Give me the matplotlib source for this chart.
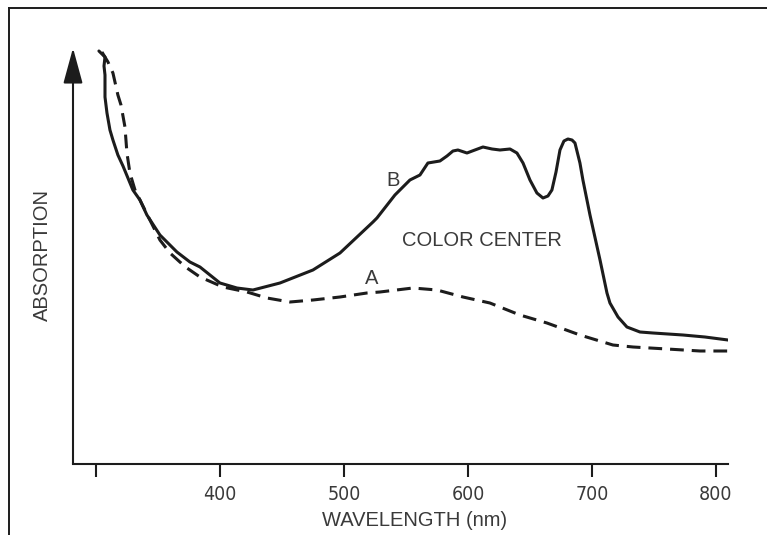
"""
plot.py - absorption spectrum sketch (curve A vs curve B with colour centre).
"""

import matplotlib
matplotlib.use("Agg")
import matplotlib.pyplot as plt
from matplotlib.lines import Line2D

# Curve B (solid): wavelength in nm, absorption in arbitrary units
b_wl = [302.4, 307.3, 306.5, 307.3, 307.3, 308.9, 311.3, 313.7, 317.7, 321.8,
        329.8, 335.5, 341.1, 351.6, 365.3, 375.8, 383.9, 400.0, 413.7, 426.6,
        448.4, 475.0, 496.8, 523.4, 526.6, 541.1, 553.2, 561.3, 567.7, 577.4,
        583.1, 587.9, 591.9, 599.2, 605.6, 612.1, 619.4, 625.8, 633.9, 639.5,
        644.4, 650.0, 655.6, 660.5, 664.5, 667.7, 671.0, 674.2, 677.4, 680.6,
        683.9, 686.3, 690.3, 692.7, 698.4, 706.5, 712.1, 714.5, 721.0, 728.2,
        738.7, 749.2, 773.4, 791.1, 809.7]
b_abs = [4.13, 4.07, 3.98, 3.89, 3.67, 3.51, 3.34, 3.24, 3.09, 2.98,
         2.74, 2.64, 2.49, 2.29, 2.12, 2.02, 1.97, 1.81, 1.76, 1.74,
         1.81, 1.94, 2.11, 2.42, 2.46, 2.69, 2.84, 2.89, 3.01, 3.03,
         3.08, 3.13, 3.14, 3.11, 3.14, 3.17, 3.15, 3.14, 3.15, 3.11,
         3.01, 2.84, 2.71, 2.66, 2.68, 2.74, 2.92, 3.14, 3.23, 3.25,
         3.24, 3.21, 3.01, 2.84, 2.49, 2.04, 1.71, 1.61, 1.47, 1.37,
         1.32, 1.31, 1.29, 1.27, 1.24]

# Curve A (dashed)
a_wl = [304.8, 309.7, 313.7, 317.7, 320.2, 323.4, 325.0, 327.4, 331.5, 341.1,
        351.6, 359.7, 367.7, 373.4, 383.9, 402.4, 421.8, 437.9, 456.5, 475.0,
        496.8, 518.5, 529.0, 555.6, 575.0, 596.0, 617.7, 641.9, 663.7, 690.3,
        716.9, 733.1, 760.5, 787.1, 809.7]
a_abs = [4.12, 4.02, 3.91, 3.69, 3.59, 3.37, 3.11, 2.91, 2.74, 2.50,
         2.24, 2.11, 2.02, 1.96, 1.87, 1.77, 1.72, 1.66, 1.62, 1.64,
         1.67, 1.71, 1.72, 1.76, 1.74, 1.67, 1.61, 1.49, 1.41, 1.29,
         1.19, 1.17, 1.15, 1.13, 1.13]

x_ticks = [300, 400, 500, 600, 700, 800]
x_tick_labels = ["", "400", "500", "600", "700", "800"]

INK = "#1c1c1c"
TEXT = "#3a3a3a"
SANS = ["Liberation Sans", "DejaVu Sans"]

fig = plt.figure(figsize=(7.67, 5.35), dpi=100)
ax = fig.add_axes([73 / 767, 71 / 535, 655 / 767, 416 / 535])

xmin, xmax = 281.5, 809.7
ymax = 4.16
ax.set_xlim(xmin, xmax)
ax.set_ylim(0, ymax)

ax.plot(b_wl, b_abs, color=INK, lw=2.2, solid_capstyle="round",
        solid_joinstyle="round")
ax.plot(a_wl, a_abs, color=INK, lw=2.2, dashes=(4.5, 2.6))

for side in ("top", "right", "left"):
    ax.spines[side].set_visible(False)
ax.spines["bottom"].set_linewidth(1.5)
ax.spines["bottom"].set_color(INK)

# y axis drawn as an arrow
ax.annotate("", xy=(xmin, ymax), xytext=(xmin, 0),
            arrowprops=dict(arrowstyle="-|>,head_length=1.1,head_width=0.3",
                            lw=1.5, color=INK, shrinkA=0, shrinkB=0,
                            mutation_scale=20),
            annotation_clip=False)

ax.set_yticks([])
ax.set_xticks(x_ticks)
ax.set_xticklabels(x_tick_labels, family="DejaVu Sans", stretch="condensed",
                   fontsize=14, color=TEXT)
ax.tick_params(axis="x", direction="out", length=9.4, width=1.5,
               color=INK, pad=6)

ax.text(539.5, 2.84, "B", family=SANS, fontsize=14.5, color=TEXT,
        ha="center", va="center")
ax.text(522.6, 1.85, "A", family=SANS, fontsize=14.5, color=TEXT,
        ha="center", va="center")
ax.text(611.3, 2.24, "COLOR CENTER", family=SANS, fontsize=14.5,
        color=TEXT, ha="center", va="center")

fig.text(415 / 767, 1 - 521 / 535, "WAVELENGTH (nm)", family=SANS,
         fontsize=14.5, color=TEXT, ha="center", va="center")
fig.text(42 / 767, 1 - 255 / 535, "ABSORPTION", family=SANS, fontsize=14.5,
         color=TEXT, ha="center", va="center", rotation=90)

# page frame (left and top edges)
fig.add_artist(Line2D([9 / 767, 9 / 767], [0, 1 - 8 / 535],
                      transform=fig.transFigure, color=INK, lw=1.4))
fig.add_artist(Line2D([9 / 767, 1], [1 - 8 / 535, 1 - 8 / 535],
                      transform=fig.transFigure, color=INK, lw=1.4))

fig.savefig("out.png", dpi=100)
